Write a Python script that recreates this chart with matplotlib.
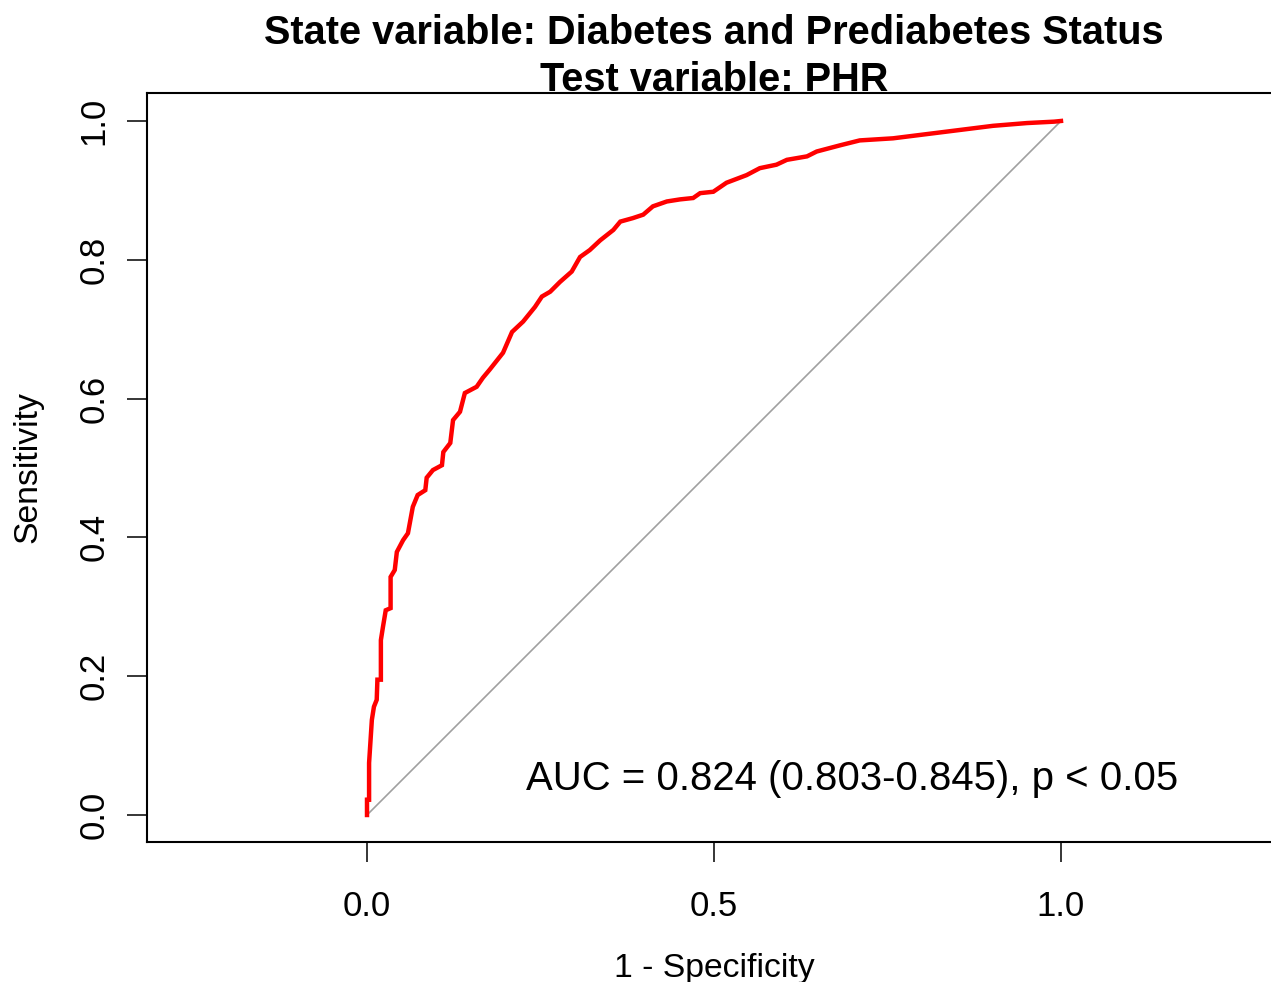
import matplotlib
matplotlib.use("Agg")
import matplotlib.pyplot as plt

# ROC curve points (1 - specificity, sensitivity)
fpr = [0.000, 0.000, 0.003, 0.003, 0.007, 0.010, 0.014, 0.015, 0.020, 0.020,
       0.023, 0.027, 0.034, 0.034, 0.040, 0.043, 0.052, 0.059, 0.066, 0.073,
       0.084, 0.086, 0.095, 0.108, 0.110, 0.120, 0.124, 0.134, 0.141, 0.158,
       0.167, 0.177, 0.196, 0.209, 0.225, 0.242, 0.252, 0.264, 0.278, 0.295,
       0.307, 0.321, 0.336, 0.355, 0.365, 0.383, 0.398, 0.412, 0.432, 0.451,
       0.470, 0.480, 0.499, 0.518, 0.547, 0.566, 0.590, 0.605, 0.634, 0.648,
       0.682, 0.710, 0.758, 0.806, 0.854, 0.902, 0.951, 0.990, 1.000]
tpr = [0.000, 0.022, 0.022, 0.075, 0.137, 0.156, 0.166, 0.195, 0.195, 0.252,
       0.271, 0.295, 0.298, 0.343, 0.353, 0.379, 0.396, 0.406, 0.444, 0.461,
       0.468, 0.486, 0.497, 0.504, 0.523, 0.536, 0.569, 0.581, 0.608, 0.617,
       0.630, 0.642, 0.666, 0.696, 0.711, 0.732, 0.747, 0.754, 0.768, 0.783,
       0.804, 0.814, 0.828, 0.843, 0.855, 0.860, 0.865, 0.877, 0.884, 0.887,
       0.889, 0.896, 0.898, 0.911, 0.922, 0.932, 0.937, 0.944, 0.949, 0.956,
       0.965, 0.972, 0.975, 0.981, 0.987, 0.993, 0.997, 0.999, 1.000]

x_ticks = [0.0, 0.5, 1.0]
x_ticklabels = ["0.0", "0.5", "1.0"]
y_ticks = [0.0, 0.2, 0.4, 0.6, 0.8, 1.0]
y_ticklabels = ["0.0", "0.2", "0.4", "0.6", "0.8", "1.0"]

title_lines = ["State variable: Diabetes and Prediabetes Status", "Test variable: PHR"]
auc_text = "AUC = 0.824 (0.803-0.845), p < 0.05"

plt.rcParams['font.family'] = ['Liberation Sans', 'DejaVu Sans']

W, H = 1271, 982
fig = plt.figure(figsize=(W / 100, H / 100), dpi=100)
ax = fig.add_axes([147 / W, 1 - 842 / H, 1 - 147 / W, (842 - 93) / H])

ax.set_xlim(-0.317, 1.3026)
ax.set_ylim(-0.0389, 1.0403)

ax.plot([0, 1], [0, 1], color="#a0a0a0", lw=1.2, zorder=2)
ax.plot(fpr, tpr, color="#ff0000", lw=3.2, zorder=3, solid_joinstyle="miter")

for s in ["left", "top", "bottom"]:
    ax.spines[s].set_linewidth(1.5)
    ax.spines[s].set_color("black")
ax.spines["right"].set_visible(False)

ax.set_xticks(x_ticks)
ax.set_xticklabels(x_ticklabels)
ax.set_yticks(y_ticks)
ax.set_yticklabels(y_ticklabels, rotation=90, va="center")
ax.tick_params(axis="both", direction="out", length=14.5, width=1.1,
               labelsize=25, color="black")
ax.tick_params(axis="x", pad=20)
ax.tick_params(axis="y", pad=12)

fig.text(714 / W, 1 - 968 / H, "1 - Specificity", ha="center", va="center", fontsize=24.3)
fig.text(28 / W, 1 - 467 / H, "Sensitivity", ha="center", va="center", fontsize=24.3, rotation=90)

fig.text(714 / W, 1 - 33 / H, title_lines[0], ha="center", va="center", fontsize=28.6, fontweight="bold")
fig.text(714 / W, 1 - 80 / H, title_lines[1], ha="center", va="center", fontsize=28.6, fontweight="bold")

ax.text(0.6996, 0.052, auc_text, ha="center", va="center", fontsize=28.9,
        transform=ax.transData)

fig.savefig("out.png", dpi=100)
